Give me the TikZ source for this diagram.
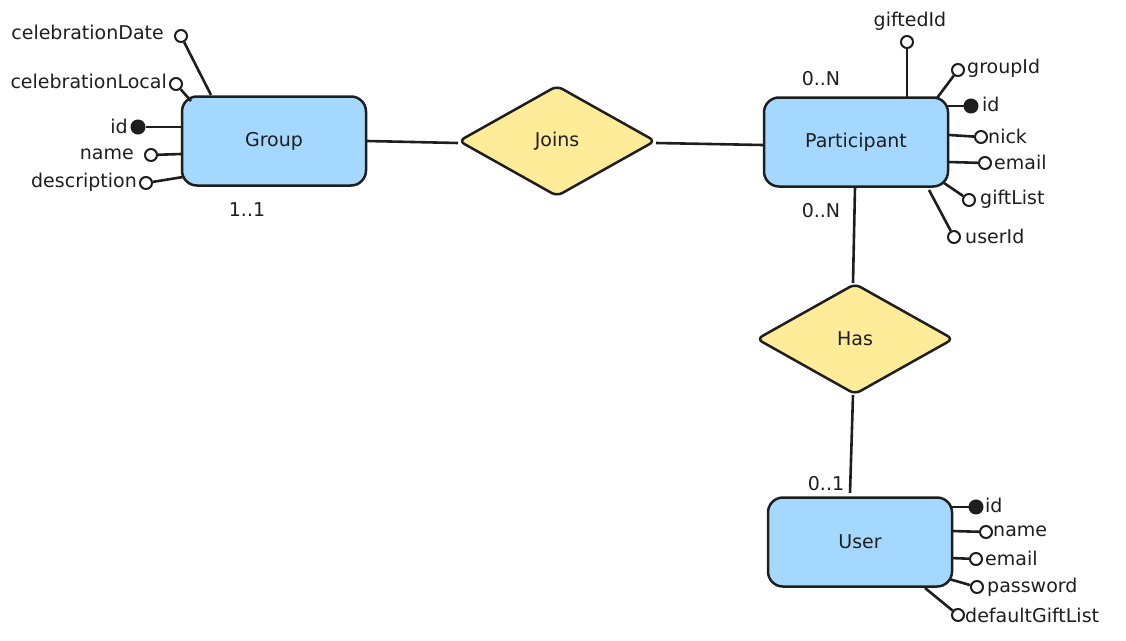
\documentclass[tikz,border=0pt]{standalone}
\usepackage{fontspec}
\setmainfont{DejaVu Sans}
\usetikzlibrary{shapes.geometric}
\definecolor{ink}{HTML}{1E1E1E}
\definecolor{entblue}{HTML}{A5D8FF}
\definecolor{relyellow}{HTML}{FFEC99}
\tikzset{
  every node/.style={font=\fontsize{19}{21}\selectfont, text=ink},
  entity/.style={draw=ink, line width=2.5pt, fill=entblue, rounded corners=15pt, minimum width=184pt, minimum height=89pt, inner sep=0pt},
  relation/.style={draw=ink, line width=2.5pt, fill=relyellow, diamond, aspect=1.77, minimum width=197pt, minimum height=111pt, inner sep=0pt, rounded corners=6pt},
  link/.style={draw=ink, line width=2.6pt},
  attrline/.style={draw=ink, line width=2.6pt},
  attr/.style={circle, draw=ink, line width=2pt, fill=white, minimum size=12pt, inner sep=0pt},
  keyattr/.style={circle, draw=ink, line width=2pt, fill=ink, minimum size=13pt, inner sep=0pt},
  lbl/.style={inner sep=1pt},
}
\begin{document}
\begin{tikzpicture}[x=1pt,y=-1pt]
\useasboundingbox (0,0) rectangle (1126,640);
% entities and relations
\node[entity] (grp) at (274,141) {Group};
\node[entity] (part) at (856,142) {Participant};
\node[entity] (usr) at (860,542) {User};
\node[relation] (joins) at (557,141) {Joins};
\node[relation] (has) at (855,339) {Has};

% connectors
\coordinate (gj1) at (367,141);
\coordinate (gj2) at (458,143);
\draw[link] (gj1) -- (gj2);
\coordinate (jp1) at (656,143);
\coordinate (jp2) at (763,145);
\draw[link] (jp1) -- (jp2);
\coordinate (ph1) at (855,187);
\coordinate (ph2) at (853,283);
\draw[link] (ph1) -- (ph2);
\coordinate (hu1) at (853,395);
\coordinate (hu2) at (850,493);
\draw[link] (hu1) -- (hu2);

% cardinalities
\node[lbl] (c11) at (247,210) {1..1};
\node[lbl] (c0n1) at (821,79) {0..N};
\node[lbl] (c0n2) at (821,211) {0..N};
\node[lbl] (c01) at (826,484) {0..1};

% Group attributes
\node[attr] (ga1) at (181,36) {};
\node[lbl, anchor=east] (gt1) at (165,32) {celebrationDate};
\coordinate (gp1) at (211,95);
\draw[attrline] (gp1) -- (ga1);
\node[attr] (ga2) at (176,84) {};
\node[lbl, anchor=east] (gt2) at (168,81) {celebrationLocal};
\coordinate (gp2) at (191,101);
\draw[attrline] (gp2) -- (ga2);
\node[keyattr] (ga3) at (138,127) {};
\node[lbl, anchor=east] (gt3) at (129,126) {id};
\coordinate (gp3) at (181,127);
\draw[attrline] (gp3) -- (ga3);
\node[attr] (ga4) at (151,155) {};
\node[lbl, anchor=east] (gt4) at (135,154) {name};
\coordinate (gp4) at (181,154);
\draw[attrline] (gp4) -- (ga4);
\node[attr] (ga5) at (146,183) {};
\node[lbl, anchor=east] (gt5) at (138,182) {description};
\coordinate (gp5) at (183,177);
\draw[attrline] (gp5) -- (ga5);

% Participant attributes
\node[attr] (pa1) at (907,42) {};
\node[lbl] (pt1) at (910,21) {giftedId};
\coordinate (pp1) at (907,97);
\draw[attrline] (pp1) -- (pa1);
\node[attr] (pa2) at (958,70) {};
\node[lbl, anchor=west] (pt2) at (966,68) {groupId};
\coordinate (pp2) at (937,98);
\draw[attrline] (pp2) -- (pa2);
\node[keyattr] (pa3) at (971,106) {};
\node[lbl, anchor=west] (pt3) at (981,104) {id};
\coordinate (pp3) at (946,106);
\draw[attrline] (pp3) -- (pa3);
\node[attr] (pa4) at (981,137) {};
\node[lbl, anchor=west] (pt4) at (987,136) {nick};
\coordinate (pp4) at (949,135);
\draw[attrline] (pp4) -- (pa4);
\node[attr] (pa5) at (985,163) {};
\node[lbl, anchor=west] (pt5) at (993,162) {email};
\coordinate (pp5) at (948,162);
\draw[attrline] (pp5) -- (pa5);
\node[attr] (pa6) at (969,200) {};
\node[lbl, anchor=west] (pt6) at (979,199) {giftList};
\coordinate (pp6) at (944,183);
\draw[attrline] (pp6) -- (pa6);
\node[attr] (pa7) at (954,237) {};
\node[lbl, anchor=west] (pt7) at (964,236) {userId};
\coordinate (pp7) at (929,190);
\draw[attrline] (pp7) -- (pa7);

% User attributes
\node[keyattr] (ua1) at (976,507) {};
\node[lbl, anchor=west] (ut1) at (984,505) {id};
\coordinate (up1) at (950,507);
\draw[attrline] (up1) -- (ua1);
\node[attr] (ua2) at (986,532) {};
\node[lbl, anchor=west] (ut2) at (992,531) {name};
\coordinate (up2) at (952,531);
\draw[attrline] (up2) -- (ua2);
\node[attr] (ua3) at (976,559) {};
\node[lbl, anchor=west] (ut3) at (984,558) {email};
\coordinate (up3) at (951,558);
\draw[attrline] (up3) -- (ua3);
\node[attr] (ua4) at (977,587) {};
\node[lbl, anchor=west] (ut4) at (986,587) {password};
\coordinate (up4) at (949,579);
\draw[attrline] (up4) -- (ua4);
\node[attr] (ua5) at (958,615) {};
\node[lbl, anchor=west] (ut5) at (964,615) {defaultGiftList};
\coordinate (up5) at (925,588);
\draw[attrline] (up5) -- (ua5);
\end{tikzpicture}
\end{document}
